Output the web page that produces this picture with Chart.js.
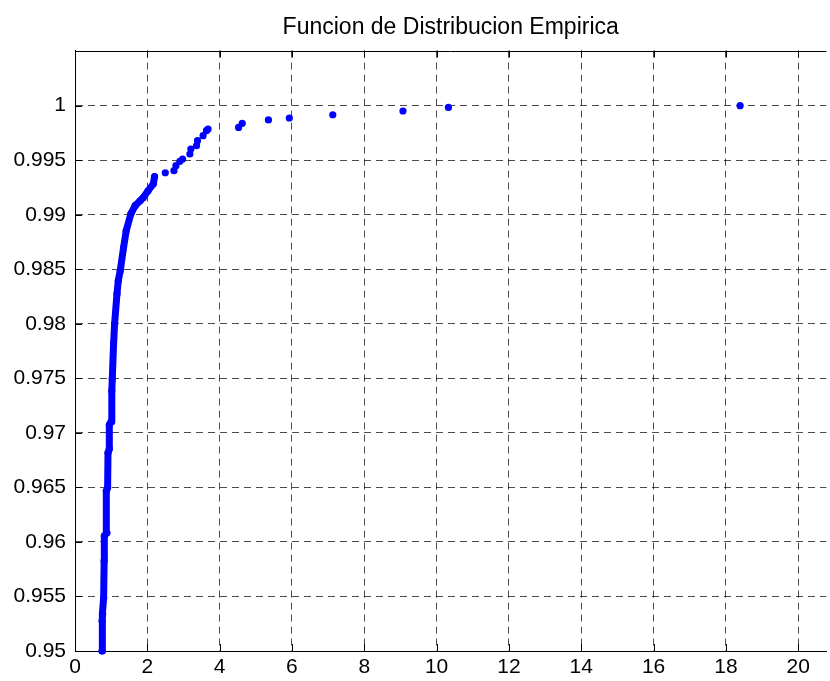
<!DOCTYPE html>
<html>
<head>
<meta charset="utf-8">
<title>Funcion de Distribucion Empirica</title>
<script src="https://cdn.jsdelivr.net/npm/chart.js@4/dist/chart.umd.min.js"></script>
<style>
  html, body { margin: 0; padding: 0; background: #fff; }
  #ecdf { display: block; }
</style>
</head>
<body>
<canvas id="ecdf" width="830" height="681"></canvas>
<script>
// ===== DATA =====
const titleText = "Funcion de Distribucion Empirica";

// steep, dense part of the empirical CDF (drawn as a thick run of dots)
const denseX = [0.748, 0.748, 0.765, 0.792, 0.806, 0.811, 0.880, 0.866, 0.902, 0.913, 0.949, 0.949,
                0.996, 1.018, 1.031, 1.067, 1.095, 1.161, 1.196, 1.251, 1.342, 1.416, 1.546, 1.664,
                1.801, 1.884, 2.021, 2.167, 2.200];
const denseY = [0.95000, 0.95275, 0.95340, 0.95486, 0.95826, 0.96055, 0.96083, 0.96468, 0.96496, 0.96817, 0.96853, 0.97073,
                0.97101, 0.97385, 0.97495, 0.97817, 0.98000, 0.98275, 0.98395, 0.98486, 0.98697, 0.98853, 0.99009, 0.99083,
                0.99128, 0.99156, 0.99220, 0.99284, 0.99349];

// upper tail, separate dots
const tailX = [2.497, 2.737, 2.791, 2.900, 2.976, 3.177, 3.204, 3.361, 3.388, 3.542, 3.636, 3.680,
               4.524, 4.626, 5.349, 5.927, 7.129, 9.070, 10.327, 18.394];
const tailY = [0.99385, 0.99404, 0.99450, 0.99490, 0.99511, 0.99557, 0.99603, 0.99633, 0.99679, 0.99725, 0.99771, 0.99786,
               0.99801, 0.99838, 0.99869, 0.99887, 0.99917, 0.99951, 0.99984, 1.00000];

const xTicks = [0, 2, 4, 6, 8, 10, 12, 14, 16, 18, 20];
const yTicks = [0.95, 0.955, 0.96, 0.965, 0.97, 0.975, 0.98, 0.985, 0.99, 0.995, 1];

const xLimits = [0, 20.78];
const yLimits = [0.95, 1.00505];

// ===== HELPERS =====
const FONT = "'Liberation Sans', Arial, Helvetica, sans-serif";
const toPoints = (xs, ys) => xs.map((v, i) => ({ x: v, y: ys[i] }));

// MATLAB style box: top edge + inward tick marks
const matlabBox = {
  id: 'matlabBox',
  afterDatasetsDraw(chart) {
    const { ctx, chartArea: a, scales: { x, y } } = chart;
    const len = 7;
    ctx.save();
    ctx.strokeStyle = '#000';
    ctx.lineWidth = 1;
    ctx.beginPath();
    ctx.moveTo(a.left, Math.round(a.top) + 0.5);
    ctx.lineTo(a.right, Math.round(a.top) + 0.5);
    xTicks.forEach(v => {
      const px = Math.round(x.getPixelForValue(v)) + 0.5;
      ctx.moveTo(px, a.bottom); ctx.lineTo(px, a.bottom - len);
      ctx.moveTo(px, a.top); ctx.lineTo(px, a.top + len);
    });
    yTicks.forEach(v => {
      const py = Math.round(y.getPixelForValue(v)) + 0.5;
      ctx.moveTo(a.left, py); ctx.lineTo(a.left + len, py);
    });
    ctx.stroke();
    ctx.restore();
  }
};

const gridStyle = { color: 'rgba(0,0,0,0.7)', lineWidth: 1, drawTicks: false };
const borderStyle = { display: true, color: '#000', width: 1, dash: [7, 5] };

// ===== CHART =====
new Chart(document.getElementById('ecdf'), {
  type: 'scatter',
  data: {
    datasets: [
      {
        label: 'ECDF',
        data: toPoints(denseX, denseY),
        showLine: true,
        borderColor: '#0000ff',
        borderWidth: 7,
        borderCapStyle: 'round',
        borderJoinStyle: 'round',
        backgroundColor: '#0000ff',
        pointRadius: 3.6,
        pointBorderWidth: 0,
        pointHoverRadius: 3.6,
        clip: false
      },
      {
        label: 'ECDF tail',
        data: toPoints(tailX, tailY),
        showLine: false,
        backgroundColor: '#0000ff',
        pointRadius: 3.6,
        pointBorderWidth: 0,
        pointHoverRadius: 3.6,
        clip: false
      }
    ]
  },
  options: {
    responsive: false,
    animation: false,
    layout: { padding: 0 },
    plugins: {
      legend: { display: false },
      tooltip: { enabled: false },
      title: {
        display: true,
        text: titleText,
        fullSize: false,
        color: '#000',
        font: { family: FONT, size: 23, weight: 'normal', lineHeight: 1.2 },
        padding: { top: 14, bottom: 9 }
      }
    },
    scales: {
      x: {
        type: 'linear',
        min: xLimits[0],
        max: xLimits[1],
        afterBuildTicks: s => { s.ticks = xTicks.map(v => ({ value: v })); },
        afterFit: s => { s.height = 30; },
        ticks: {
          color: '#000',
          padding: 4,
          font: { family: FONT, size: 21 },
          callback: v => String(v)
        },
        grid: gridStyle,
        border: borderStyle
      },
      y: {
        type: 'linear',
        min: yLimits[0],
        max: yLimits[1],
        afterBuildTicks: s => { s.ticks = yTicks.map(v => ({ value: v })); },
        afterFit: s => { s.width = 75; },
        ticks: {
          color: '#000',
          padding: 9,
          font: { family: FONT, size: 21 },
          callback: v => String(Number(v.toFixed(3)))
        },
        grid: gridStyle,
        border: borderStyle
      }
    }
  },
  plugins: [matlabBox]
});
</script>
</body>
</html>
